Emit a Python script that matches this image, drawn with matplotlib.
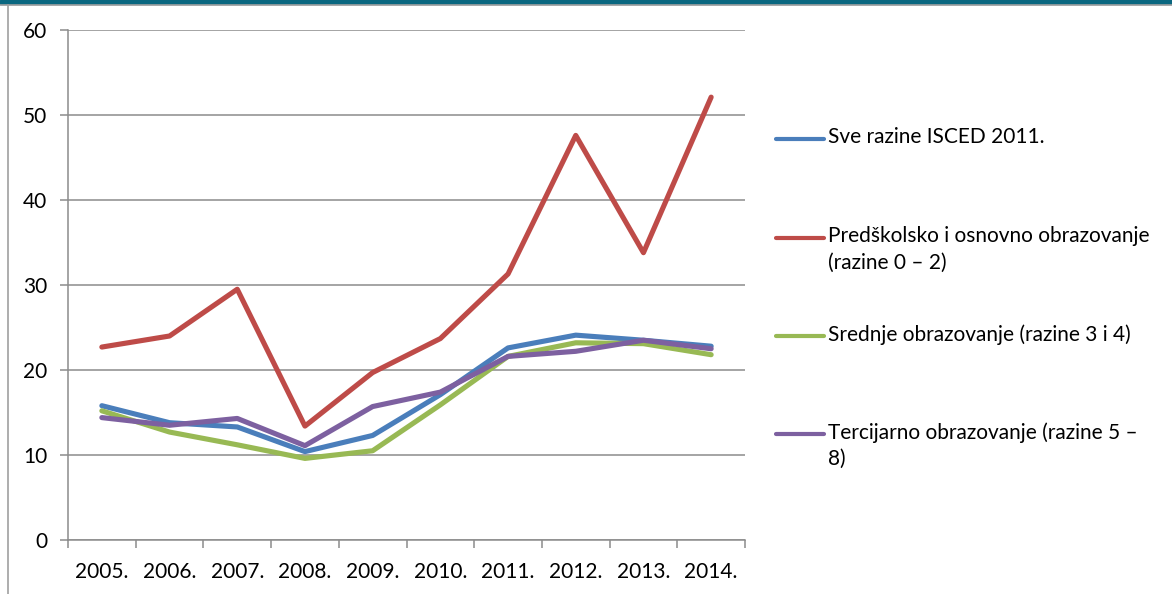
import matplotlib.pyplot as plt
from matplotlib.lines import Line2D
from matplotlib.patches import Rectangle

plt.rcParams['font.family'] = ['Lato', 'DejaVu Sans']

years = ["2005.", "2006.", "2007.", "2008.", "2009.", "2010.", "2011.", "2012.", "2013.", "2014."]
sve = [15.8, 13.8, 13.3, 10.4, 12.3, 17.1, 22.6, 24.1, 23.5, 22.8]
predskolsko = [22.7, 24.0, 29.5, 13.4, 19.7, 23.7, 31.3, 47.6, 33.8, 52.1]
srednje = [15.2, 12.7, 11.2, 9.6, 10.5, 15.9, 21.6, 23.2, 23.1, 21.8]
tercijarno = [14.4, 13.5, 14.3, 11.1, 15.7, 17.4, 21.6, 22.2, 23.5, 22.5]

labels = ["Sve razine ISCED 2011.",
          "Predškolsko i osnovno obrazovanje\n(razine 0 – 2)",
          "Srednje obrazovanje (razine 3 i 4)",
          "Tercijarno obrazovanje (razine 5 –\n8)"]
colors = ["#4A7EBB", "#BE4B48", "#98B954", "#7D60A0"]
series = [sve, predskolsko, srednje, tercijarno]

W, H = 1172, 594
FS = 15
fig = plt.figure(figsize=(W / 100, H / 100), dpi=100)
ax = fig.add_axes([68 / W, 1 - 540 / H, (745 - 68) / W, (540 - 30) / H])

x = list(range(len(years)))
for vals, c in zip(series, colors):
    ax.plot(x, vals, color=c, lw=3.7, solid_capstyle="round", solid_joinstyle="round", zorder=3)

ax.set_xlim(-0.5, len(years) - 0.5)
ax.set_ylim(0, 60)
ax.set_yticks(range(0, 61, 10))
ax.yaxis.grid(True, color="#8c8c8c", lw=1.1)
ax.set_axisbelow(True)
ax.set_xticks(x)
ax.set_xticklabels(years)
ax.set_xticks([i - 0.5 for i in range(len(years) + 1)], minor=True)
ax.tick_params(axis="x", which="major", length=0, pad=16, labelsize=FS)
ax.tick_params(axis="x", which="minor", length=6, width=1.1, color="#8c8c8c", direction="out")
ax.tick_params(axis="y", length=6, width=1.1, color="#8c8c8c", pad=9, labelsize=FS)
for s in ["top", "right"]:
    ax.spines[s].set_visible(False)
for s in ["left", "bottom"]:
    ax.spines[s].set_color("#8c8c8c")
    ax.spines[s].set_linewidth(1.1)

# legend drawn by hand so the line sits beside the first text line
leg_y = [139, 238, 336, 434]
for lab, c, yy in zip(labels, colors, leg_y):
    fy = 1 - yy / H
    fig.add_artist(Line2D([776 / W, 824 / W], [fy, fy], color=c, lw=3.0, solid_capstyle="round"))
    fig.text(828 / W, 1 - (yy - 12) / H, lab, fontsize=FS, va="top", ha="left", linespacing=1.4)

# frame pieces from the surrounding page
fig.add_artist(Rectangle((0, 1 - 4 / H), 1, 4 / H, color="#0a6780", transform=fig.transFigure))
fig.add_artist(Line2D([0, 1], [1 - 5 / H, 1 - 5 / H], color="#a0a0a0", lw=1.2))
fig.add_artist(Line2D([8 / W, 8 / W], [0, 1 - 5 / H], color="#a0a0a0", lw=1.2))

fig.savefig("out.png", dpi=100)
